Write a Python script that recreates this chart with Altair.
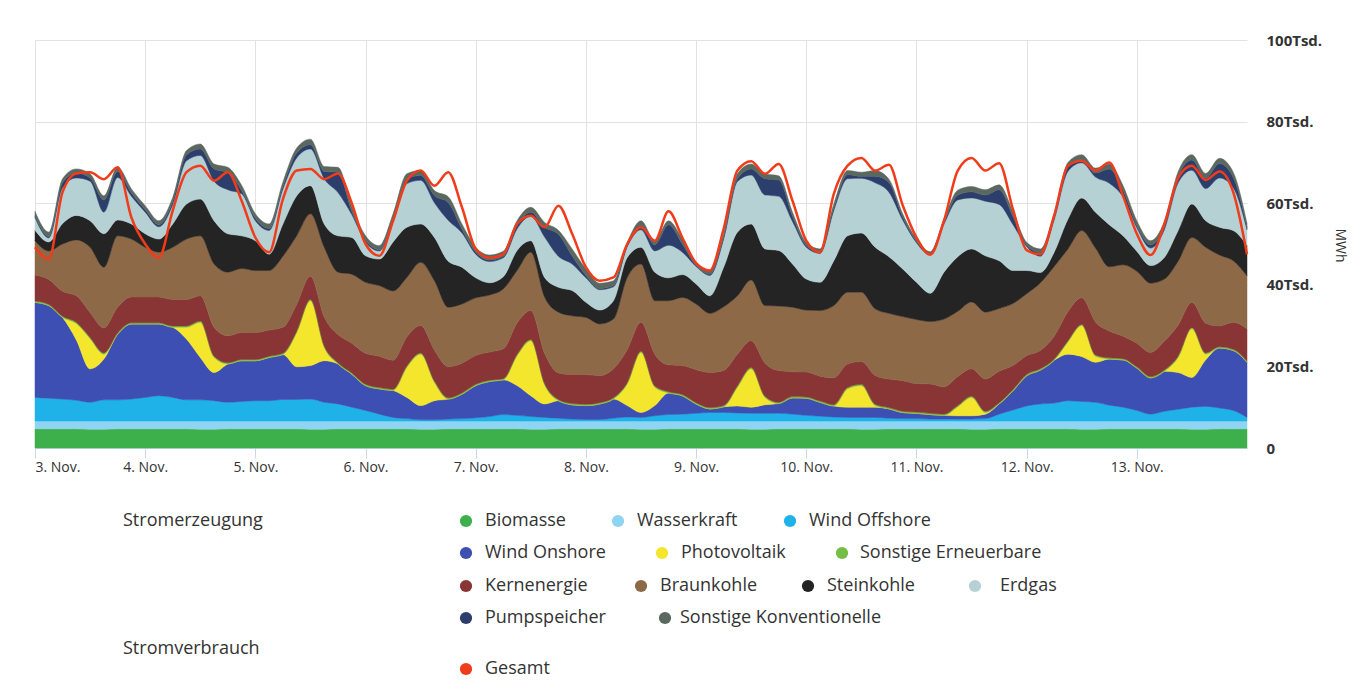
import altair as alt
import pandas as pd

# ---------------- data (values in thousand MWh, 3-hourly) ----------------
DAYS = list(range(3, 14))
HOURS = [0, 3, 6, 9, 12, 15, 18, 21]
TIMES = [f"2015-11-{d:02d}T{h:02d}:00:00" for d in DAYS for h in HOURS] + ["2015-11-14T00:00:00"]

SERIES = ["Biomasse", "Wasserkraft", "Wind Offshore", "Wind Onshore", "Photovoltaik",
          "Sonstige Erneuerbare", "Kernenergie", "Braunkohle", "Steinkohle", "Erdgas",
          "Pumpspeicher", "Sonstige Konventionelle"]
COLORS = ["#3db04b", "#8fd4f3", "#1fb2e8", "#3d4fb2", "#f4e62d", "#74be45", "#8a3535",
          "#8d6947", "#242424", "#b6d1d4", "#2c3e6c", "#5b6860"]
TOTAL_NAME = "Gesamt"
TOTAL_COLOR = "#f03c1a"

BIOMASSE = [4.7, 4.7, 4.7, 4.7, 4.6, 4.6, 4.7, 4.7,  4.7, 4.7, 4.7, 4.7, 4.6, 4.6, 4.7, 4.7,
            4.7, 4.7, 4.7, 4.7, 4.6, 4.6, 4.7, 4.7,  4.7, 4.7, 4.7, 4.7, 4.6, 4.6, 4.7, 4.7,
            4.7, 4.7, 4.7, 4.7, 4.6, 4.6, 4.7, 4.7,  4.7, 4.7, 4.7, 4.7, 4.6, 4.6, 4.7, 4.7,
            4.7, 4.7, 4.7, 4.7, 4.6, 4.6, 4.7, 4.7,  4.7, 4.7, 4.7, 4.7, 4.6, 4.6, 4.7, 4.7,
            4.7, 4.7, 4.7, 4.7, 4.6, 4.6, 4.7, 4.7,  4.7, 4.7, 4.7, 4.7, 4.6, 4.6, 4.7, 4.7,
            4.7, 4.7, 4.7, 4.7, 4.6, 4.6, 4.7, 4.7, 4.7]
WASSERKRAFT = [1.9, 1.9, 1.9, 1.9, 2.0, 2.0, 1.9, 1.9,  1.9, 1.9, 1.9, 1.9, 2.0, 2.0, 1.9, 1.9,
               1.9, 1.9, 1.9, 1.9, 2.0, 2.0, 1.9, 1.9,  1.9, 1.9, 1.9, 1.9, 2.0, 2.0, 1.9, 1.9,
               1.9, 1.9, 1.9, 1.9, 2.0, 2.0, 1.9, 1.9,  1.9, 1.9, 1.9, 1.9, 2.0, 2.0, 1.9, 1.9,
               1.9, 1.9, 1.9, 1.9, 2.0, 2.0, 1.9, 1.9,  1.9, 1.9, 1.9, 1.9, 2.0, 2.0, 1.9, 1.9,
               1.9, 1.9, 1.9, 1.9, 2.0, 2.0, 1.9, 1.9,  1.9, 1.9, 1.9, 1.9, 2.0, 2.0, 1.9, 1.9,
               1.9, 1.9, 1.9, 1.9, 2.0, 2.0, 1.9, 1.9, 1.9]
WIND_OFFSHORE = [5.8, 5.6, 5.4, 5.1, 4.6, 5.2, 5.2, 5.4,  5.8, 6.2, 5.8, 5.2, 5.2, 5.0, 4.6, 4.8,
                 5.0, 5.0, 5.3, 5.3, 5.4, 4.6, 4.2, 3.4,  2.6, 1.7, 0.9, 0.6, 0.3, 0.3, 0.5, 0.6,
                 0.8, 1.1, 1.6, 1.4, 1.1, 0.9, 0.7, 0.5,  0.4, 0.4, 0.7, 1.0, 0.9, 1.3, 1.6, 1.7,
                 1.9, 2.1, 2.1, 2.0, 1.9, 1.9, 1.9, 1.7,  1.4, 1.2, 1.0, 0.9, 0.9, 0.9, 0.7, 0.6,
                 0.6, 0.5, 0.5, 0.5, 0.5, 0.6, 1.7, 2.7,  3.7, 4.2, 4.4, 5.0, 4.8, 4.6, 3.9, 3.4,
                 2.6, 1.7, 2.4, 2.9, 3.4, 3.6, 3.2, 2.6, 0.9]
WIND_ONSHORE = [23.3, 22.7, 20.0, 14.8, 8.2, 10.0, 16.1, 18.4,  18.0, 17.6, 17.2, 14.9, 10.4, 6.9, 9.4, 10.0,
                9.8, 10.6, 11.0, 8.0, 8.2, 10.2, 9.8, 8.1,  6.1, 6.2, 6.6, 5.2, 3.5, 4.7, 4.9, 6.0,
                7.9, 8.6, 8.5, 7.3, 5.1, 3.3, 4.3, 3.5,  3.4, 3.8, 4.7, 2.8, 1.2, 2.5, 5.3, 4.5,
                2.3, 0.9, 1.4, 1.7, 1.5, 2.1, 2.4, 4.0,  4.2, 3.4, 2.7, 2.5, 2.5, 2.5, 2.3, 1.5,
                1.3, 1.1, 0.9, 0.8, 0.8, 1.1, 2.5, 4.7,  7.4, 8.3, 10.5, 11.4, 11.0, 9.8, 11.3, 11.6,
                10.4, 8.9, 9.8, 9.0, 7.3, 11.4, 14.7, 14.7, 13.5]
PHOTOVOLTAIK = [0, 0, 0, 4.0, 7.4, 1.2, 0, 0,  0, 0, 0, 2.9, 8.6, 3.7, 0, 0,
                0, 0, 0, 8.4, 15.9, 3.3, 0, 0,  0, 0, 0, 7.4, 12.6, 4.5, 0, 0,
                0, 0, 0, 7.3, 13.5, 4.7, 0, 0,  0, 0, 0, 5.3, 14.7, 4.5, 0, 0,
                0, 0, 0, 4.6, 9.4, 1.8, 0, 0,  0, 0, 0, 4.5, 5.3, 0.4, 0, 0,
                0, 0, 0, 2.2, 4.5, 0.4, 0, 0,  0, 0, 0, 3.0, 7.6, 1.5, 0, 0,
                0, 0, 0, 3.7, 11.9, 1.4, 0, 0, 0]
SONSTIGE_EE = [0.3, 0.3, 0.3, 0.3, 0.3, 0.3, 0.3, 0.3,  0.3, 0.3, 0.3, 0.3, 0.3, 0.3, 0.3, 0.3,
               0.3, 0.3, 0.3, 0.3, 0.3, 0.3, 0.3, 0.3,  0.3, 0.3, 0.3, 0.3, 0.3, 0.3, 0.3, 0.3,
               0.3, 0.3, 0.3, 0.3, 0.3, 0.3, 0.3, 0.3,  0.3, 0.3, 0.3, 0.3, 0.3, 0.3, 0.3, 0.3,
               0.3, 0.3, 0.3, 0.3, 0.3, 0.3, 0.3, 0.3,  0.3, 0.3, 0.3, 0.3, 0.3, 0.3, 0.3, 0.3,
               0.3, 0.3, 0.3, 0.3, 0.3, 0.3, 0.3, 0.3,  0.3, 0.3, 0.3, 0.3, 0.3, 0.3, 0.3, 0.3,
               0.3, 0.3, 0.3, 0.3, 0.3, 0.3, 0.3, 0.3, 0.3]
KERNENERGIE = [6.4, 6.1, 6.1, 6.5, 6.1, 6.1, 6.3, 6.3,  6.3, 6.3, 6.5, 6.5, 6.2, 7.1, 6.6, 6.6,
               6.6, 6.4, 6.4, 6.6, 5.7, 7.1, 6.9, 7.3,  7.6, 7.7, 7.1, 7.1, 6.7, 7.6, 7.6, 7.3,
               7.1, 6.9, 7.3, 7.7, 7.1, 7.4, 6.5, 7.1,  7.3, 6.6, 7.1, 8.1, 7.1, 7.8, 6.6, 7.1,
               8.1, 8.6, 8.6, 7.8, 6.6, 8.1, 7.8, 6.1,  6.1, 6.1, 6.6, 5.8, 5.6, 7.1, 7.0, 7.5,
               7.0, 7.2, 6.7, 7.1, 6.7, 7.9, 7.7, 5.9,  4.6, 4.5, 5.6, 7.1, 6.5, 8.1, 6.6, 5.5,
               5.8, 5.9, 7.1, 7.6, 6.2, 7.3, 5.1, 6.6, 7.9]
BRAUNKOHLE = [8.4, 7.0, 11.6, 13.7, 16.0, 14.9, 17.5, 14.2,  12.2, 11.0, 12.8, 14.8, 14.7, 15.5, 15.6, 15.7,
              15.2, 14.6, 17.4, 16.8, 15.3, 17.1, 15.3, 16.9,  17.4, 17.3, 17.0, 14.6, 15.5, 17.0, 14.6, 14.5,
              14.1, 14.0, 14.7, 12.9, 14.3, 13.8, 14.9, 14.4,  14.0, 12.7, 12.2, 17.7, 14.3, 13.1, 15.7, 16.7,
              16.1, 14.5, 15.6, 14.3, 14.9, 14.1, 15.8, 15.8,  15.2, 16.1, 17.7, 17.6, 17.0, 16.3, 16.1, 15.7,
              15.7, 15.3, 16.6, 16.0, 16.4, 16.4, 15.4, 15.2,  15.2, 16.6, 17.1, 15.4, 16.5, 18.1, 15.7, 17.5,
              17.6, 17.0, 15.2, 15.7, 15.9, 18.6, 17.4, 15.1, 13.0]
STEINKOHLE = [2.6, 2.2, 5.0, 6.0, 6.5, 8.2, 3.9, 3.7,  3.3, 3.2, 5.7, 8.6, 9.0, 10.6, 9.4, 8.0,
              7.3, 4.0, 7.9, 9.8, 6.9, 5.7, 8.9, 9.0,  6.5, 6.5, 12.0, 12.3, 9.4, 10.6, 11.3, 9.0,
              4.9, 3.0, 3.0, 4.9, 2.8, 4.8, 6.1, 6.2,  3.7, 3.4, 4.5, 4.9, 4.1, 7.0, 5.6, 5.6,
              4.9, 4.3, 9.7, 15.6, 13.7, 13.9, 13.6, 10.6,  7.6, 6.9, 11.0, 13.8, 14.5, 15.1, 13.9, 11.7,
              9.1, 6.9, 11.5, 13.4, 13.0, 13.8, 11.7, 8.1,  5.7, 2.5, 3.5, 7.3, 8.0, 8.8, 10.3, 7.1,
              4.9, 4.3, 5.3, 7.5, 8.2, 6.5, 6.8, 7.4, 7.4]
ERDGAS = [3.1, 1.0, 8.8, 9.2, 9.7, 5.3, 10.4, 6.8,  5.3, 3.0, 4.7, 10.6, 10.7, 9.7, 10.8, 10.3,
          4.9, 5.8, 8.5, 9.3, 9.0, 11.1, 10.6, 5.6,  3.4, 2.0, 4.9, 10.7, 10.7, 8.5, 10.0, 8.4,
          5.8, 5.2, 4.6, 5.3, 6.0, 9.9, 7.6, 6.5,  6.0, 5.0, 3.4, 2.6, 4.3, 5.2, 8.0, 5.5,
          4.3, 5.0, 6.9, 12.4, 12.0, 13.2, 13.3, 10.4,  7.8, 7.1, 12.3, 14.0, 13.4, 15.8, 15.8, 12.0,
          9.7, 9.4, 11.8, 13.9, 12.5, 13.4, 13.8, 11.3,  5.9, 4.0, 7.9, 11.7, 8.6, 8.6, 10.2, 9.5,
          5.8, 4.3, 6.8, 11.7, 8.3, 7.9, 12.1, 10.5, 3.9]
PUMPSPEICHER = [0.4, 0.3, 1.2, 1.2, 0.8, 3.0, 1.5, 0.8,  0.6, 0.5, 0.8, 1.5, 1.6, 3.0, 4.2, 0.8,
                0.6, 0.5, 0.7, 1.2, 1.0, 1.8, 5.0, 0.8,  0.4, 0.3, 0.8, 1.2, 1.2, 1.8, 4.4, 0.9,
                0.5, 0.4, 0.4, 0.8, 1.0, 2.4, 5.4, 2.0,  0.6, 0.3, 0.3, 0.3, 1.0, 1.5, 5.0, 2.0,
                0.2, 0.3, 0.4, 0.7, 1.5, 4.0, 4.0, 1.3,  0.4, 0.3, 0.6, 1.0, 0.5, 1.6, 2.4, 0.7,
                0.3, 0.3, 0.4, 1.2, 1.5, 1.5, 3.6, 2.0,  0.3, 0.9, 0.6, 1.0, 0.8, 1.0, 3.5, 1.7,
                0.5, 0.8, 0.8, 1.5, 2.5, 2.5, 3.5, 2.5, 0.5]
SONSTIGE_KONV = [1.1, 1.1, 1.0, 1.0, 1.0, 1.0, 1.0, 1.0,  1.0, 1.0, 1.0, 1.0, 1.2, 1.2, 1.3, 1.3,
                 1.1, 1.1, 1.1, 1.2, 1.4, 1.2, 1.2, 1.2,  1.1, 1.0, 1.2, 1.2, 1.2, 1.2, 1.4, 1.3,
                 1.2, 1.2, 1.2, 1.2, 1.2, 1.2, 1.0, 1.7,  1.6, 1.3, 1.2, 0.8, 1.2, 1.0, 1.0, 1.2,
                 0.8, 0.9, 0.9, 1.2, 1.2, 1.2, 1.0, 1.0,  0.8, 0.8, 1.0, 1.0, 1.0, 1.4, 0.8, 0.8,
                 0.6, 0.5, 0.8, 1.2, 1.3, 1.3, 1.2, 1.2,  0.7, 0.9, 1.0, 1.2, 1.2, 1.2, 1.2, 1.1,
                 1.2, 1.0, 1.2, 1.2, 1.3, 1.2, 1.3, 1.3, 1.0]
GESAMT = [49.2, 46.3, 62.7, 67.3, 67.6, 65.9, 68.8, 56.5,  50.0, 46.7, 58.2, 67.6, 69.2, 65.5, 67.6, 60.6,
          51.6, 48.0, 61.0, 68.0, 68.4, 65.9, 67.3, 60.0,  50.0, 47.1, 55.7, 65.5, 68.0, 64.3, 67.6, 59.0,
          48.8, 46.6, 47.5, 54.9, 56.9, 54.1, 59.4, 52.5,  44.3, 41.0, 41.8, 50.0, 54.1, 50.8, 58.0, 51.6,
          45.3, 43.5, 53.7, 68.0, 70.3, 67.2, 69.6, 60.6,  50.8, 48.0, 62.3, 69.2, 71.1, 68.0, 69.4, 59.5,
          51.6, 47.4, 55.7, 68.0, 71.1, 68.0, 69.8, 58.6,  48.5, 47.5, 57.0, 69.2, 70.4, 68.0, 70.0, 61.8,
          52.5, 47.3, 54.9, 66.2, 69.2, 65.7, 67.8, 62.7, 47.5]

VALUES = [BIOMASSE, WASSERKRAFT, WIND_OFFSHORE, WIND_ONSHORE, PHOTOVOLTAIK, SONSTIGE_EE,
          KERNENERGIE, BRAUNKOHLE, STEINKOHLE, ERDGAS, PUMPSPEICHER, SONSTIGE_KONV]

Y_TICKS = [0, 20, 40, 60, 80, 100]

# ---------------- legend layout (pixels relative to the plot origin) ----------------
LEGEND_NAMES = SERIES + [TOTAL_NAME]
LEGEND_ROWS = [["Biomasse", "Wasserkraft", "Wind Offshore"],
               ["Wind Onshore", "Photovoltaik", "Sonstige Erneuerbare"],
               ["Kernenergie", "Braunkohle", "Steinkohle", "Erdgas"],
               ["Pumpspeicher", "Sonstige Konventionelle"],
               [TOTAL_NAME]]
LEGEND_ROW_Y = [481, 513, 546, 578, 629]
LEGEND_SYMBOL_X = [[431, 583, 755], [431, 627, 807], [431, 606, 773, 940], [431, 630], [431]]
LEGEND_TEXT_X = [[450, 602, 774], [450, 646, 825], [450, 625, 792, 965], [450, 645], [450]]
HEADINGS = ["Stromerzeugung", "Stromverbrauch"]
HEADING_X = [88, 88]
HEADING_Y = [481, 609]

FONT = "Open Sans"
TEXT_COLOR = "#333333"
GRID_COLOR = "#e2e2e2"
AXIS_COLOR = "#ccd6eb"

# ---------------- tables ----------------
rows = []
for k, (name, vals) in enumerate(zip(SERIES, VALUES)):
    assert len(vals) == len(TIMES), name
    for t, v in zip(TIMES, vals):
        rows.append({"time": t, "series": name, "value": v, "idx": k})
df = pd.DataFrame(rows)

assert len(GESAMT) == len(TIMES)
df_total = pd.DataFrame({"time": TIMES, "value": GESAMT, "series": TOTAL_NAME})

sym_rows, txt_rows = [], []
for names, y, sx, tx in zip(LEGEND_ROWS, LEGEND_ROW_Y, LEGEND_SYMBOL_X, LEGEND_TEXT_X):
    for n, a, b in zip(names, sx, tx):
        sym_rows.append({"name": n, "px": a, "py": y})
        txt_rows.append({"label": n, "px": b, "py": y})
for h, a, y in zip(HEADINGS, HEADING_X, HEADING_Y):
    txt_rows.append({"label": h, "px": a, "py": y})
df_sym = pd.DataFrame(sym_rows)
df_txt = pd.DataFrame(txt_rows)

color_scale = alt.Scale(domain=LEGEND_NAMES, range=COLORS + [TOTAL_COLOR])

x_enc = alt.X(
    "time:T",
    scale=alt.Scale(domain=[alt.DateTime(year=2015, month=11, date=3),
                            alt.DateTime(year=2015, month=11, date=14)], nice=False),
    axis=alt.Axis(
        values=[alt.DateTime(year=2015, month=11, date=d) for d in DAYS],
        format="%-d. %b.", labelFlush=True, labelOverlap=False,
        grid=True, gridColor=GRID_COLOR, gridWidth=1,
        domainColor=AXIS_COLOR, tickColor=AXIS_COLOR, tickSize=10,
        labelFont=FONT, labelFontSize=14, labelColor=TEXT_COLOR, labelPadding=2,
        title=None,
    ),
)
y_scale = alt.Scale(domain=[0, 100], nice=False)
y_axis = alt.Axis(
    orient="right", values=Y_TICKS,
    labelExpr="datum.value == 0 ? '0' : datum.value + 'Tsd.'",
    domain=False, ticks=False, labelPadding=19,
    grid=True, gridColor=GRID_COLOR, gridWidth=1,
    labelFont=FONT, labelFontSize=15, labelFontWeight="bold", labelColor=TEXT_COLOR,
    title="MWh", titleFont=FONT, titleFontSize=14, titleFontWeight="normal",
    titleColor=TEXT_COLOR, titleAngle=90, titleX=92, titleY=205,
    titleAlign="center", titleBaseline="middle",
)

areas = alt.Chart(df).mark_area(interpolate="monotone", strokeWidth=0.5, opacity=1).encode(
    x=x_enc,
    y=alt.Y("value:Q", stack="zero", scale=y_scale, axis=y_axis),
    color=alt.Color("series:N", scale=color_scale, legend=None),
    stroke=alt.Stroke("series:N", scale=color_scale, legend=None),
    order=alt.Order("idx:Q", sort="ascending"),
)

total = alt.Chart(df_total).mark_line(interpolate="monotone", strokeWidth=2.5).encode(
    x=alt.X("time:T"),
    y=alt.Y("value:Q"),
    color=alt.Color("series:N", scale=color_scale, legend=None),
)

plot = alt.layer(areas, total)

symbols = alt.Chart(df_sym).mark_point(filled=True, size=150, opacity=1, shape="circle").encode(
    x=alt.X("px:Q", scale=None, axis=None),
    y=alt.Y("py:Q", scale=None, axis=None),
    color=alt.Color("name:N", scale=color_scale, legend=None),
)
labels = alt.Chart(df_txt).mark_text(align="left", baseline="middle", font=FONT,
                                     fontSize=18, color=TEXT_COLOR).encode(
    x=alt.X("px:Q", scale=None, axis=None),
    y=alt.Y("py:Q", scale=None, axis=None),
    text="label:N",
)
legend = alt.layer(symbols, labels)

chart = alt.layer(plot, legend).resolve_scale(
    x="independent", y="independent"
).properties(
    width=1212, height=408,
    autosize=alt.AutoSizeParams(type="none"),
    padding={"left": 27, "top": 32, "right": 105, "bottom": 232},
    background="white",
).configure_view(stroke=None)

chart.save("out.html", embed_options={"renderer": "svg", "actions": False})
